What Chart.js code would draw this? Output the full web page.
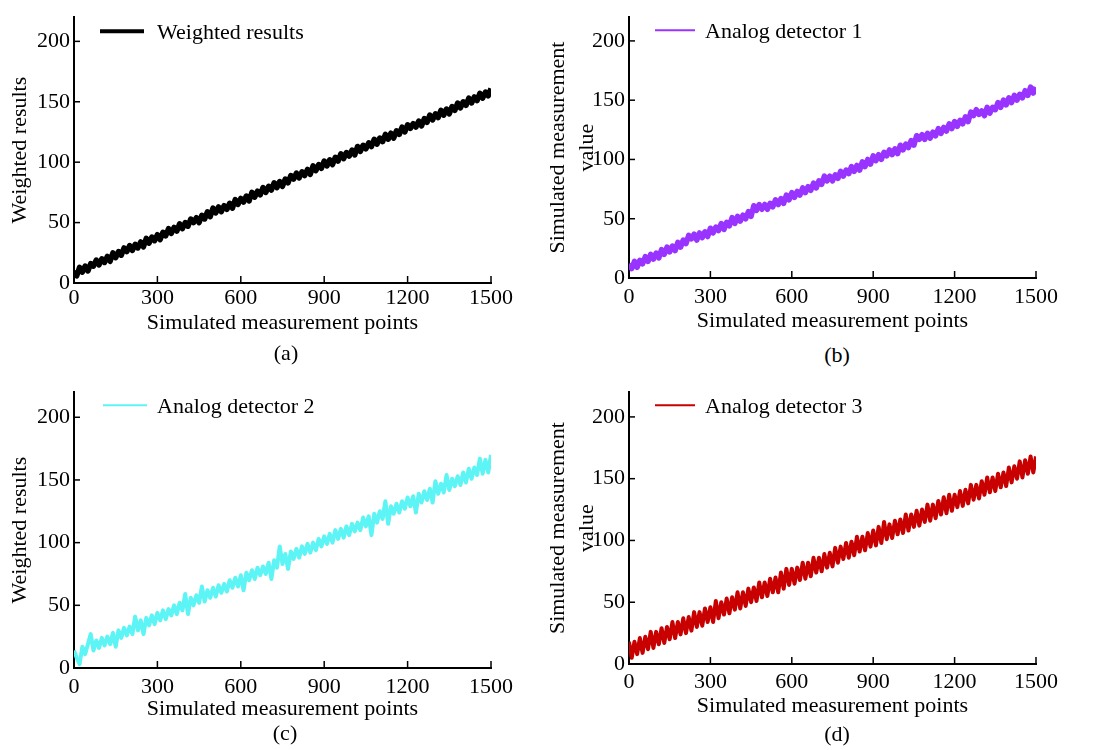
<!DOCTYPE html>
<html>
<head>
<meta charset="utf-8">
<script src="https://cdn.jsdelivr.net/npm/chart.js@4.4.1/dist/chart.umd.min.js"></script>
<style>
  body { margin: 0; background: #fff; width: 1095px; height: 750px; position: relative; overflow: hidden; }
  .panel { position: absolute; }
  .caption { position: absolute; font-family: "Liberation Serif", "Times New Roman", serif; font-size: 22px; color: #000; transform: translate(-50%, -50%); }
</style>
</head>
<body>
<div class="panel" style="left:0;top:0"><canvas id="chartA" width="540" height="343"></canvas></div>
<div class="panel" style="left:540px;top:0"><canvas id="chartB" width="555" height="338"></canvas></div>
<div class="panel" style="left:0;top:375px"><canvas id="chartC" width="540" height="353"></canvas></div>
<div class="panel" style="left:540px;top:375px"><canvas id="chartD" width="555" height="349"></canvas></div>
<div class="caption" style="left:286px;top:353px">(a)</div>
<div class="caption" style="left:837px;top:355px">(b)</div>
<div class="caption" style="left:285px;top:733px">(c)</div>
<div class="caption" style="left:837px;top:734px">(d)</div>
<script>
// one sample every 10 measurement points, 0..1500
const STEP = 10;
const xTickValues = [0, 300, 600, 900, 1200, 1500];
const yTickValues = [0, 50, 100, 150, 200];

const weighted = [
  10, 6, 13, 9, 14, 10, 16, 14, 19, 15,
  20, 17, 22, 18, 25, 21, 26, 23, 29, 26,
  31, 27, 32, 29, 34, 30, 37, 33, 38, 35,
  40, 36, 42, 39, 45, 41, 46, 43, 49, 45,
  50, 47, 53, 50, 54, 50, 56, 53, 59, 55,
  62, 58, 63, 59, 64, 61, 66, 62, 69, 65,
  70, 67, 72, 68, 75, 71, 76, 73, 79, 75,
  80, 77, 83, 79, 84, 80, 86, 83, 89, 86,
  91, 87, 92, 89, 94, 90, 97, 93, 98, 95,
  101, 97, 102, 98, 104, 101, 107, 103, 108, 105,
  110, 106, 113, 109, 114, 111, 116, 113, 119, 115,
  120, 117, 123, 119, 124, 120, 126, 123, 129, 125,
  131, 128, 132, 129, 134, 130, 136, 133, 139, 135,
  140, 137, 143, 139, 144, 140, 146, 143, 149, 145,
  150, 147, 153, 149, 154, 151, 157, 153, 158, 155, 161
];

const detector1 = [
  12, 8, 14, 9, 15, 12, 18, 14, 20, 16,
  21, 17, 24, 20, 26, 22, 27, 23, 30, 26,
  32, 29, 36, 33, 37, 32, 38, 34, 39, 35,
  42, 38, 43, 40, 46, 41, 47, 44, 51, 46,
  52, 48, 53, 50, 56, 52, 61, 57, 62, 58,
  62, 58, 63, 60, 66, 62, 67, 63, 70, 66,
  72, 68, 73, 70, 76, 72, 77, 74, 80, 76,
  82, 79, 86, 82, 86, 82, 87, 84, 90, 86,
  91, 88, 94, 90, 95, 91, 98, 94, 100, 96,
  103, 99, 104, 100, 106, 103, 108, 104, 109, 105,
  112, 108, 113, 110, 116, 112, 120, 117, 121, 117,
  122, 118, 123, 120, 126, 122, 127, 124, 130, 126,
  132, 128, 133, 130, 136, 132, 140, 137, 142, 138,
  141, 137, 144, 139, 144, 142, 148, 144, 150, 146,
  152, 148, 154, 150, 155, 152, 158, 154, 161, 156, 161
];

const detector2 = [
  14, 8, 3, 17, 11, 19, 27, 14, 22, 16,
  24, 18, 25, 19, 28, 17, 30, 24, 32, 26,
  33, 27, 41, 30, 38, 27, 40, 34, 42, 35,
  44, 38, 46, 39, 47, 42, 50, 43, 52, 46,
  59, 43, 56, 50, 58, 52, 65, 53, 62, 56,
  64, 57, 66, 60, 67, 61, 70, 64, 72, 65,
  74, 62, 76, 70, 78, 71, 80, 74, 81, 75,
  84, 71, 86, 80, 97, 83, 91, 79, 93, 87,
  95, 88, 97, 91, 99, 92, 100, 94, 103, 97,
  105, 99, 107, 100, 110, 103, 111, 104, 113, 106,
  115, 109, 116, 110, 120, 113, 121, 106, 123, 116,
  125, 119, 133, 115, 129, 123, 131, 124, 133, 127,
  136, 129, 137, 124, 139, 132, 141, 134, 143, 132,
  149, 139, 147, 140, 154, 142, 151, 145, 153, 146,
  156, 148, 159, 151, 160, 154, 167, 155, 166, 156, 170
];

const detector3 = [
  18, 5, 18, 8, 21, 9, 22, 12, 26, 13,
  26, 16, 29, 17, 30, 20, 34, 21, 34, 24,
  37, 25, 38, 27, 42, 30, 42, 31, 45, 34,
  46, 34, 51, 37, 50, 40, 53, 41, 54, 44,
  58, 45, 58, 47, 61, 50, 62, 51, 66, 54,
  66, 55, 69, 58, 70, 58, 74, 61, 77, 64,
  77, 65, 78, 68, 82, 69, 82, 71, 86, 74,
  86, 75, 89, 78, 90, 79, 94, 82, 95, 85,
  98, 86, 99, 88, 103, 91, 103, 92, 106, 95,
  108, 96, 111, 98, 115, 101, 113, 102, 116, 105,
  117, 106, 121, 108, 121, 111, 124, 112, 125, 115,
  129, 116, 129, 118, 132, 121, 135, 122, 137, 124,
  137, 127, 140, 128, 141, 130, 145, 133, 145, 134,
  148, 137, 151, 139, 151, 140, 154, 143, 155, 144,
  159, 147, 160, 150, 164, 151, 165, 154, 168, 155, 168
];

const FONT = "'Liberation Serif', 'Times New Roman', serif";

// tick marks pointing into the plot, like the original figure
const innerTicks = {
  id: "innerTicks",
  afterDraw(chart) {
    const { ctx, chartArea, scales } = chart;
    ctx.save();
    ctx.strokeStyle = "#000";
    ctx.lineWidth = 1.5;
    scales.x.ticks.forEach(t => {
      const px = scales.x.getPixelForValue(t.value);
      ctx.beginPath();
      ctx.moveTo(px, chartArea.bottom);
      ctx.lineTo(px, chartArea.bottom - 7);
      ctx.stroke();
    });
    scales.y.ticks.forEach(t => {
      const py = scales.y.getPixelForValue(t.value);
      ctx.beginPath();
      ctx.moveTo(chartArea.left, py);
      ctx.lineTo(chartArea.left + 6, py);
      ctx.stroke();
    });
    ctx.restore();
  }
};

// legend drawn inside the plot area, top left
const insideLegend = {
  id: "insideLegend",
  afterDraw(chart, args, opts) {
    const { ctx, chartArea } = chart;
    const ds = chart.data.datasets[0];
    const x0 = chartArea.left + opts.x;
    const y0 = chartArea.top + opts.y;
    ctx.save();
    ctx.strokeStyle = ds.borderColor;
    ctx.lineWidth = opts.lineWidth;
    ctx.beginPath();
    ctx.moveTo(x0, y0);
    ctx.lineTo(x0 + opts.len, y0);
    ctx.stroke();
    ctx.fillStyle = "#000";
    ctx.font = "22px " + FONT;
    ctx.textBaseline = "middle";
    ctx.fillText(ds.label, x0 + opts.len + opts.gap, y0 + 2);
    ctx.restore();
  }
};

function makePanel(id, cfg) {
  const ctx = document.getElementById(id).getContext("2d");
  return new Chart(ctx, {
    type: "line",
    data: {
      datasets: [{
        label: cfg.label,
        data: cfg.values.map((v, i) => ({ x: i * STEP, y: v })),
        borderColor: cfg.color,
        borderWidth: cfg.width,
        borderJoinStyle: "round",
        pointRadius: 0,
        tension: 0,
        fill: false
      }]
    },
    options: {
      responsive: false,
      animation: false,
      devicePixelRatio: 1,
      layout: { padding: { left: 0, top: cfg.top, right: cfg.right, bottom: 0 } },
      plugins: {
        legend: { display: false },
        tooltip: { enabled: false },
        insideLegend: cfg.legend
      },
      scales: {
        x: {
          type: "linear",
          min: 0,
          max: 1500,
          afterBuildTicks: s => { s.ticks = xTickValues.map(v => ({ value: v })); },
          afterFit: s => { s.height = 60; },
          ticks: {
            color: "#000",
            font: { family: FONT, size: 22 },
            padding: cfg.xTickPad,
            maxRotation: 0,
            callback: v => String(v)
          },
          grid: { display: false, drawTicks: false },
          border: { color: "#000", width: 2 },
          title: {
            display: true,
            text: "Simulated measurement points",
            color: "#000",
            font: { family: FONT, size: 22, lineHeight: 1.2 },
            padding: { top: 0, bottom: cfg.xTitlePad }
          }
        },
        y: {
          min: 0,
          max: 220,
          afterBuildTicks: s => { s.ticks = yTickValues.map(v => ({ value: v })); },
          afterFit: s => { s.width = cfg.yWidth; },
          ticks: { color: "#000", font: { family: FONT, size: 22 }, padding: 4 },
          grid: { display: false, drawTicks: false },
          border: { color: "#000", width: 2 },
          title: {
            display: true,
            text: cfg.yTitle,
            color: "#000",
            font: { family: FONT, size: 22, lineHeight: cfg.yTitleLH },
            padding: { top: cfg.yTitlePad, bottom: 0 }
          }
        }
      }
    },
    plugins: [innerTicks, insideLegend]
  });
}

makePanel("chartA", {
  label: "Weighted results", values: weighted, color: "#000000", width: 5.5,
  top: 7, right: 49, yWidth: 74, xTickPad: 2, xTitlePad: 7,
  yTitle: "Weighted results", yTitleLH: 1.2, yTitlePad: 7,
  legend: { x: 26, y: 14, len: 44, gap: 13, lineWidth: 4 }
});

makePanel("chartB", {
  label: "Analog detector 1", values: detector1, color: "#9933FF", width: 5.5,
  top: 4, right: 59, yWidth: 89, xTickPad: 6, xTitlePad: 4,
  yTitle: ["Simulated measurement", "value"], yTitleLH: 1.32, yTitlePad: 4,
  legend: { x: 26, y: 13, len: 40, gap: 10, lineWidth: 2 }
});

makePanel("chartC", {
  label: "Analog detector 2", values: detector2, color: "#5CF4F4", width: 4,
  top: 17, right: 49, yWidth: 74, xTickPad: 6, xTitlePad: 6,
  yTitle: "Weighted results", yTitleLH: 1.2, yTitlePad: 7,
  legend: { x: 29, y: 13, len: 44, gap: 10, lineWidth: 2 }
});

makePanel("chartD", {
  label: "Analog detector 3", values: detector3, color: "#C80000", width: 4,
  top: 14, right: 59, yWidth: 89, xTickPad: 5, xTitlePad: 5,
  yTitle: ["Simulated measurement", "value"], yTitleLH: 1.32, yTitlePad: 4,
  legend: { x: 26, y: 13, len: 40, gap: 10, lineWidth: 2 }
});
</script>
</body>
</html>
